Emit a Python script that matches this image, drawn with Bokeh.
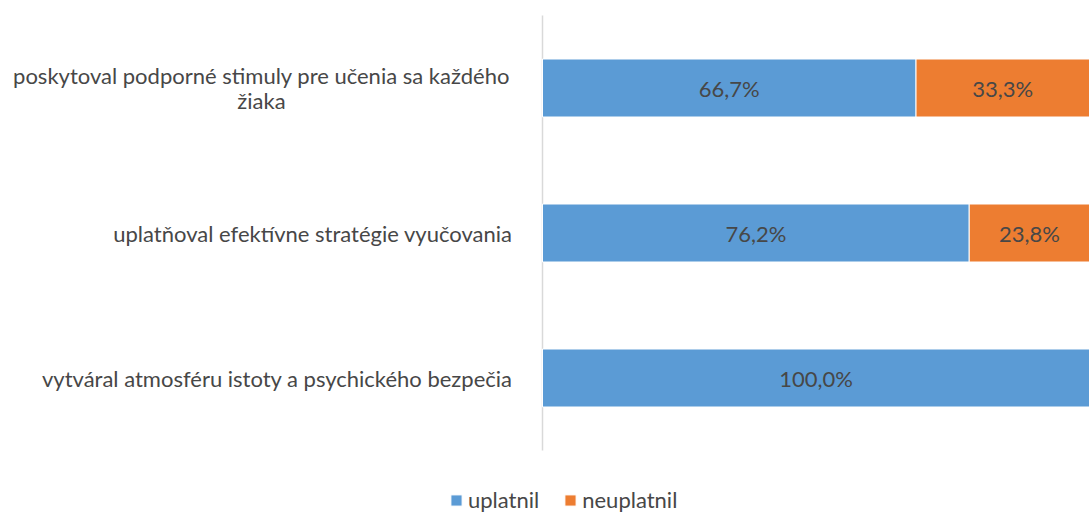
from bokeh.plotting import figure
from bokeh.models import Range1d, Legend, LegendItem, ColumnDataSource
from bokeh.core.properties import value
from bokeh.embed import file_html
from bokeh.resources import INLINE

categories = [
    "poskytoval podporné stimuly pre učenia sa každého\nžiaka",
    "uplatňoval efektívne stratégie vyučovania",
    "vytváral atmosféru istoty a psychického bezpečia",
]
uplatnil = [66.7, 76.2, 100.0]
neuplatnil = [33.3, 23.8, 0.0]
series_names = ["uplatnil", "neuplatnil"]
colors = ["#5B9BD5", "#ED7D31"]

FONT = "Lato"
TXT = "#474747"
FS = "22px"

n = len(categories)
ys = [n - 0.5 - i for i in range(n)]

# frame covers the whole canvas; value 0 sits at pixel 542, 100 % at ~1102 (cut off like the original)
PX_PER_UNIT = 5.6
X_LEFT = -542 / PX_PER_UNIT
X_RIGHT = (1089 - 542) / PX_PER_UNIT
Y_TOP = n + 15 / 145
Y_BOTTOM = -63 / 145

p = figure(width=1089, height=513, output_backend="svg", toolbar_location=None,
           x_range=Range1d(X_LEFT, X_RIGHT), y_range=Range1d(Y_BOTTOM, Y_TOP),
           min_border_left=0, min_border_right=0, min_border_top=0, min_border_bottom=0)
p.outline_line_color = None
p.grid.visible = False
p.axis.visible = False

# category axis line
p.segment(x0=[0], y0=[0], x1=[0], y1=[n], line_color="#D9D9D9", line_width=1.5)

src = ColumnDataSource(dict(y=ys, uplatnil=uplatnil, neuplatnil=neuplatnil))
renderers = p.hbar_stack(series_names, y="y", height=0.4, color=colors, source=src,
                         line_color="white", line_width=1)

# value labels centred in the visible part of each segment
lx, ly, lt = [], [], []
for i in range(n):
    start = 0.0
    for vals in (uplatnil, neuplatnil):
        v = vals[i]
        if v > 0:
            end = start + v
            lx.append((start + min(end, X_RIGHT)) / 2)
            ly.append(ys[i])
            lt.append(f"{v:.1f}%".replace(".", ","))
        start += v
p.text(x=lx, y=ly, text=lt, text_align="center", text_baseline="middle",
       text_font=value(FONT), text_font_size=FS, text_color=TXT)

# category labels
single = [i for i, c in enumerate(categories) if "\n" not in c]
multi = [i for i, c in enumerate(categories) if "\n" in c]
p.text(x=[-30 / PX_PER_UNIT] * len(single), y=[ys[i] for i in single],
       text=[categories[i] for i in single], text_align="right", text_baseline="middle",
       text_font=value(FONT), text_font_size=FS, text_color=TXT)
p.text(x=[(261 - 542) / PX_PER_UNIT] * len(multi), y=[ys[i] for i in multi],
       text=[categories[i] for i in multi], text_align="center", text_baseline="middle",
       text_font=value(FONT), text_font_size=FS, text_color=TXT, text_line_height=0.95)

legend = Legend(items=[LegendItem(label=s, renderers=[r]) for s, r in zip(series_names, renderers)],
                orientation="horizontal", location=(449, 0),
                glyph_width=14, glyph_height=14, label_text_font=FONT,
                label_text_font_size=FS, label_text_color=TXT,
                border_line_color=None, background_fill_alpha=0, spacing=24,
                padding=0, margin=0, label_standoff=5)
p.add_layout(legend)

open("out.html", "w").write(file_html(p, INLINE))
